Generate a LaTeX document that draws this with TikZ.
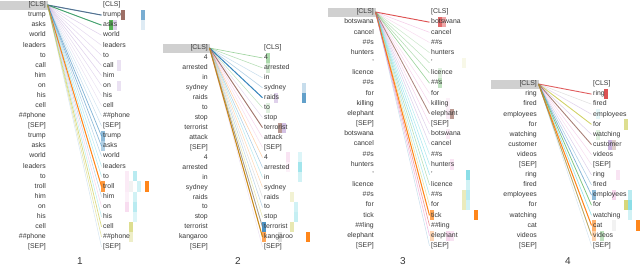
\documentclass[tikz,border=0pt]{standalone}
\usepackage{fontspec}
\setmainfont{Liberation Sans}
\usepackage{tikz}
\definecolor{hblue}{RGB}{31,119,180}
\definecolor{horange}{RGB}{255,127,14}
\definecolor{hgreen}{RGB}{44,160,44}
\definecolor{hred}{RGB}{214,39,40}
\definecolor{hpurple}{RGB}{148,103,189}
\definecolor{hbrown}{RGB}{140,86,75}
\definecolor{hpink}{RGB}{227,119,194}
\definecolor{hgray}{RGB}{127,127,127}
\definecolor{holive}{RGB}{188,189,34}
\definecolor{hcyan}{RGB}{23,190,207}
\definecolor{tokgray}{RGB}{55,55,55}
\definecolor{clsbox}{RGB}{208,208,208}

\begin{document}
\begin{tikzpicture}[x=1pt, y=-1pt, every node/.style={font=\fontsize{6.9}{7}\selectfont, text=tokgray, inner xsep=1.5pt, inner ysep=0pt, text height=4.9pt, text depth=1.4pt}, att/.style={line width={(0.3+0.8*#1)*1pt}}, panelno/.style={font=\fontsize{10}{12}\selectfont, text height=7pt}]
  \useasboundingbox (0,0) rectangle (640,266);

  % 1
  \fill[clsbox] (0,0.5) rectangle (48,9.5);
  \foreach \r/\h/\c/\o in {1/5/hbrown/.85, 1/10/hblue/.6, 2/2/hgreen/.8, 2/3/hpurple/.3, 2/10/hblue/.15, 6/4/hpurple/.2, 8/4/hpurple/.2, 13/0/hblue/.5, 14/0/hblue/.35, 17/6/hpink/.15, 17/8/hcyan/.3, 18/0/horange/.8, 18/6/hpink/.15, 18/7/hgray/.1, 18/9/hcyan/.2, 18/11/horange/.95, 19/6/hpink/.1, 19/8/hcyan/.2, 20/6/hpink/.25, 20/8/hcyan/.3, 21/8/hcyan/.15, 22/7/holive/.5, 23/7/holive/.25} { \fill[\c, opacity=\o] ({101+4*\h},{10.08*\r}) rectangle +(4,10.08); }
  \foreach \t [count=\i from 0] in {{[CLS]},trump,asks,world,leaders,to,call,him,on,his,cell,{\#\#phone},{[SEP]},trump,asks,world,leaders,to,troll,him,on,his,cell,{\#\#phone},{[SEP]}} {
    \node[anchor=east] (a1-\i) at (47.5,{5+10.08*\i}) {\t};
    \node[anchor=west] (b1-\i) at (101.5,{5+10.08*\i}) {\t};
  }
  \foreach \j/\c/\o in {1/hblue/.9, 1/hbrown/.5, 2/hgreen/.8, 2/hblue/.4, 3/hpurple/.3, 4/hpurple/.25, 5/hpurple/.25, 6/hpurple/.3, 7/hpurple/.3, 8/hpurple/.25, 9/hpurple/.2, 10/hpurple/.2, 11/hblue/.2, 12/hblue/.25, 13/hblue/.55, 14/hblue/.5, 15/hblue/.3, 16/hcyan/.3, 17/hcyan/.35, 18/horange/.95, 19/hblue/.3, 20/hpink/.3, 21/hcyan/.3, 22/holive/.55, 23/holive/.4, 24/hblue/.2} { \draw[\c, opacity=\o, att=\o] (a1-0.east) -- (b1-\j.west); }
  \node[panelno] (n1) at (80,262) {1};

  % 2
  \fill[clsbox] (163,43.5) rectangle (210,52.5);
  \foreach \r/\h/\c/\o in {1/1/hgreen/.4, 2/1/hgreen/.2, 6/1/hgreen/.15, 4/10/hblue/.25, 5/10/hblue/.7, 5/3/hpurple/.3, 8/4/hbrown/.6, 8/5/hpurple/.4, 11/6/hpink/.2, 11/9/hcyan/.15, 12/9/hcyan/.4, 12/6/hpink/.1, 13/9/hcyan/.2, 15/7/holive/.2, 16/8/hcyan/.2, 17/8/hcyan/.25, 18/0/hblue/.8, 18/7/holive/.35, 19/0/horange/.7, 19/4/hgray/.25, 19/11/horange/.95} { \fill[\c, opacity=\o] ({262+4*\h},{43+9.95*\r}) rectangle +(4,9.95); }
  \foreach \t [count=\i from 0] in {{[CLS]},4,arrested,in,sydney,raids,to,stop,terrorist,attack,{[SEP]},4,arrested,in,sydney,raids,to,stop,terrorist,kangaroo,{[SEP]}} {
    \node[anchor=east] (a2-\i) at (209.5,{48+9.95*\i}) {\t};
    \node[anchor=west] (b2-\i) at (262.5,{48+9.95*\i}) {\t};
  }
  \foreach \j/\c/\o in {1/hgreen/.45, 2/hgreen/.35, 3/hblue/.25, 4/hblue/.35, 5/hblue/.9, 6/hgreen/.3, 7/hpurple/.25, 8/hbrown/.8, 9/hpink/.3, 10/hpink/.25, 11/horange/.35, 12/hblue/.35, 13/hcyan/.3, 14/horange/.3, 15/hgray/.25, 16/hblue/.3, 17/holive/.35, 18/hblue/.6, 18/horange/.4, 19/horange/.95, 19/hgreen/.4, 20/hpurple/.2} { \draw[\c, opacity=\o, att=\o] (a2-0.east) -- (b2-\j.west); }
  \node[panelno] (n2) at (238,262) {2};

  % 3
  \fill[clsbox] (328,7.5) rectangle (376,16.5);
  \foreach \r/\h/\c/\o in {1/2/hred/.7, 1/3/hred/.4, 6/2/hgreen/.15, 7/2/hgreen/.3, 9/4/hpink/.1, 10/4/hpink/.15, 10/5/hbrown/.6, 5/8/holive/.1, 12/4/hpink/.15, 15/5/hpink/.2, 16/9/hcyan/.5, 17/9/hcyan/.2, 18/8/holive/.3, 18/9/hcyan/.3, 19/8/holive/.3, 19/9/hcyan/.2, 20/0/horange/.7, 20/11/horange/.95, 22/0/horange/.3, 22/4/hpink/.3, 22/5/hpink/.2} { \fill[\c, opacity=\o] ({430+4*\h},{6.9+10.17*\r}) rectangle +(4,10.17); }
  \foreach \t [count=\i from 0] in {{[CLS]},botswana,cancel,{\#\#s},hunters,{'},licence,{\#\#s},for,killing,elephant,{[SEP]},botswana,cancel,{\#\#s},hunters,{'},licence,{\#\#s},for,tick,{\#\#ling},elephant,{[SEP]}} {
    \node[anchor=east] (a3-\i) at (375.5,{12+10.17*\i}) {\t};
    \node[anchor=west] (b3-\i) at (429.5,{12+10.17*\i}) {\t};
  }
  \foreach \j/\c/\o in {1/hred/.8, 2/hpink/.35, 3/hpink/.25, 4/hgreen/.25, 5/hgreen/.3, 6/hgreen/.35, 7/hgreen/.45, 8/hpink/.25, 9/hpink/.3, 10/hbrown/.7, 11/hpink/.3, 12/hpurple/.3, 13/hpurple/.3, 14/hcyan/.3, 15/hcyan/.35, 16/hcyan/.4, 17/hgreen/.35, 18/hcyan/.35, 19/holive/.4, 20/horange/.95, 21/hred/.45, 22/hpink/.45, 23/hblue/.25} { \draw[\c, opacity=\o, att=\o] (a3-0.east) -- (b3-\j.west); }
  \node[panelno] (n3) at (403,262) {3};

  % 4
  \fill[clsbox] (491,79.5) rectangle (539,88.5);
  \foreach \r/\h/\c/\o in {1/3/hred/.8, 3/1/hcyan/.1, 4/8/holive/.5, 5/1/hgreen/.15, 6/4/hpurple/.5, 6/5/hbrown/.3, 9/6/hpink/.2, 11/0/hblue/.5, 11/5/hpink/.3, 11/9/hcyan/.3, 12/8/holive/.6, 12/9/hcyan/.5, 13/9/hcyan/.2, 14/0/horange/.6, 14/5/hgray/.1, 14/11/horange/.95, 15/0/horange/.35, 15/2/hgreen/.3} { \fill[\c, opacity=\o] ({592+4*\h},{79+10.1*\r}) rectangle +(4,10.1); }
  \foreach \t [count=\i from 0] in {{[CLS]},ring,fired,employees,for,watching,customer,videos,{[SEP]},ring,fired,employees,for,watching,cat,videos,{[SEP]}} {
    \node[anchor=east] (a4-\i) at (538.5,{84+10.1*\i}) {\t};
    \node[anchor=west] (b4-\i) at (591.5,{84+10.1*\i}) {\t};
  }
  \foreach \j/\c/\o in {1/hred/.75, 2/hgray/.25, 3/hpurple/.3, 4/holive/.7, 5/hpurple/.3, 6/hbrown/.75, 7/hpink/.3, 8/hpink/.25, 9/hpurple/.3, 10/hblue/.35, 11/hblue/.55, 12/hgreen/.6, 13/hcyan/.45, 14/horange/.95, 15/hbrown/.6, 15/holive/.5, 16/hblue/.2} { \draw[\c, opacity=\o, att=\o] (a4-0.east) -- (b4-\j.west); }
  \node[panelno] (n4) at (568,262) {4};
\end{tikzpicture}
\end{document}
